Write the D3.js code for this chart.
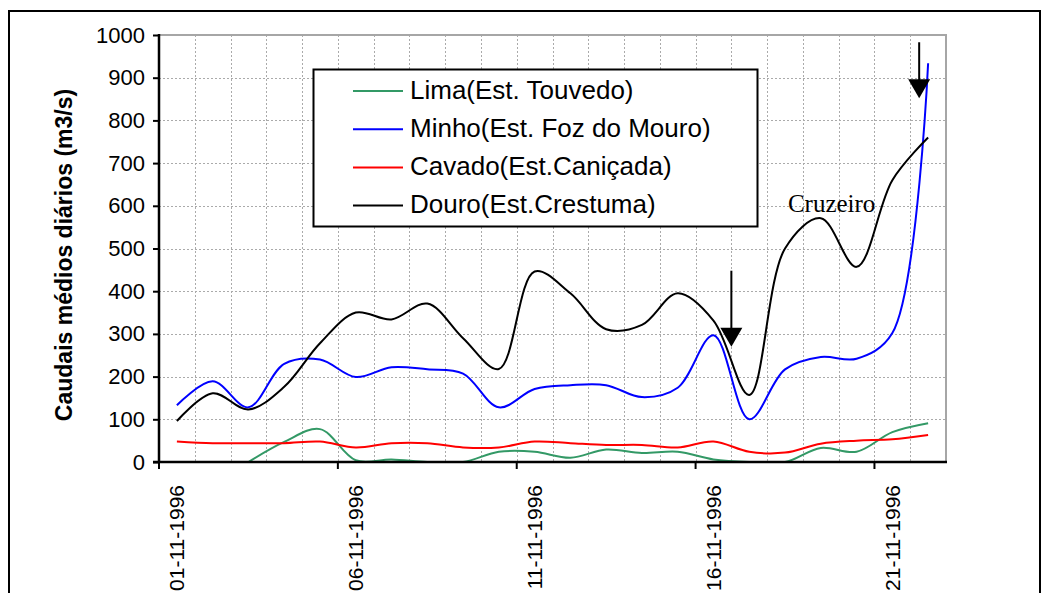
<!DOCTYPE html>
<html><head><meta charset="utf-8">
<script src="https://cdn.jsdelivr.net/npm/d3@7/dist/d3.min.js"></script>
<style>body{margin:0;background:#fff}svg{display:block}</style>
</head><body><svg id="c" width="1052" height="593"></svg>
<script>
// ---- data ----
const dates = ["01-11-1996","02-11-1996","03-11-1996","04-11-1996","05-11-1996","06-11-1996",
  "07-11-1996","08-11-1996","09-11-1996","10-11-1996","11-11-1996","12-11-1996","13-11-1996",
  "14-11-1996","15-11-1996","16-11-1996","17-11-1996","18-11-1996","19-11-1996","20-11-1996",
  "21-11-1996","22-11-1996"];
const xTickLabels = ["01-11-1996","06-11-1996","11-11-1996","16-11-1996","21-11-1996"];
const yTicks = [0,100,200,300,400,500,600,700,800,900,1000];
const lima   = [null,null,0,47,77,4,6,0,0,24,24,10,29,21,24,6,0,0,33,24,70,91];
const minho  = [133,189,128,230,240,199,222,217,207,128,171,180,180,152,174,297,100,217,246,242,302,934];
const cavado = [48,44,44,44,48,34,44,44,34,34,48,44,40,40,34,48,24,22,43,50,53,63];
const douro  = [96,161,123,176,278,350,334,371,290,218,446,395,311,321,395,331,157,500,571,457,660,760];
const seriesNames  = ["Lima(Est. Touvedo)","Minho(Est. Foz do Mouro)","Cavado(Est.Caniçada)","Douro(Est.Crestuma)"];
const seriesValues = [lima, minho, cavado, douro];
const seriesColors = ["#339966","#0000ff","#ff0000","#000000"];
const yTitle = "Caudais médios diários (m3/s)";
const noteText = "Cruzeiro";
const noteAt = {index:17.08, value:586};
const arrows = [{index:15.5, top:448, tip:270}, {index:20.75, top:983, tip:852}];

// ---- layout ----
const svg = d3.select("#c");
const L = 159, R = 946, T = 35, B = 462;
const x = d3.scaleBand().domain(dates).range([L, R]).padding(0);
const bw = x.bandwidth();
const cx = i => x(dates[0]) + bw/2 + i*bw;
const y = d3.scaleLinear().domain([0,1000]).range([B, T]);
const sans = "'Liberation Sans', Arial, sans-serif";

// outer frame
svg.append("rect").attr("x",9).attr("y",11).attr("width",1031).attr("height",640)
  .attr("fill","#fff").attr("stroke","#000").attr("stroke-width",2);

svg.append("clipPath").attr("id","pc").append("rect")
  .attr("x",L).attr("y",T-2).attr("width",R-L).attr("height",B-T+2);

// gridlines
const grid = svg.append("g").attr("stroke","#aaa").attr("stroke-width",1).attr("stroke-dasharray","2,2");
grid.selectAll("line.h").data(yTicks.filter(v=>v>0 && v<1000)).join("line")
  .attr("x1",L).attr("x2",R).attr("y1",d=>Math.round(y(d))+0.5).attr("y2",d=>Math.round(y(d))+0.5);
grid.selectAll("line.v").data(dates.slice(1)).join("line")
  .attr("x1",d=>Math.round(x(d))+0.5).attr("x2",d=>Math.round(x(d))+0.5).attr("y1",T).attr("y2",B);

// plot border (top/right gray)
svg.append("path").attr("d",`M${L},${T}H${R}V${B}`).attr("fill","none")
  .attr("stroke","#a6a6a6").attr("stroke-width",2);

// series
const line = d3.line().defined(d=>d.v!=null).x(d=>cx(d.i)).y(d=>y(d.v)).curve(d3.curveCatmullRom.alpha(0.5));
const sg = svg.append("g").attr("clip-path","url(#pc)");
seriesValues.forEach((vals,k)=>{
  sg.append("path").datum(vals.map((v,i)=>({i,v})))
    .attr("d",line).attr("fill","none").attr("stroke",seriesColors[k]).attr("stroke-width",2)
    .attr("stroke-linejoin","round");
});

// y axis
const yAx = svg.append("g").attr("transform",`translate(${L},0)`)
  .call(d3.axisLeft(y).tickValues(yTicks).tickSize(6).tickPadding(8).tickFormat(d3.format("d")));
yAx.select(".domain").remove();
yAx.selectAll(".tick line").attr("stroke","#000").attr("stroke-width",2);
yAx.selectAll(".tick text").attr("font-family",sans).attr("font-size","22px").attr("fill","#000");
svg.append("line").attr("x1",L).attr("x2",L).attr("y1",T-1).attr("y2",B+1).attr("stroke","#000").attr("stroke-width",2.5);

// x axis
svg.append("line").attr("x1",L-6).attr("x2",R+1).attr("y1",B).attr("y2",B).attr("stroke","#000").attr("stroke-width",2.5);
svg.selectAll("line.xt").data(xTickLabels).join("line")
  .attr("x1",d=>x(d)).attr("x2",d=>x(d)).attr("y1",B).attr("y2",B+7).attr("stroke","#000").attr("stroke-width",2);
svg.selectAll("text.xl").data(xTickLabels).join("text")
  .attr("transform",d=>`translate(${x(d)+bw/2+7.5},485) rotate(-90)`)
  .attr("text-anchor","end").attr("font-family",sans).attr("font-size","21px").text(d=>d);

// y title
svg.append("text").attr("transform","translate(71.5,255) rotate(-90)")
  .attr("text-anchor","middle").attr("font-family",sans).attr("font-weight","bold")
  .attr("font-size","23px").text(yTitle);

// legend
const lg = svg.append("g");
lg.append("rect").attr("x",313.5).attr("y",69.5).attr("width",444).attr("height",157)
  .attr("fill","#fff").attr("stroke","#000").attr("stroke-width",2);
seriesNames.forEach((n,k)=>{
  const ly = 91 + k*38.2;
  lg.append("line").attr("x1",353).attr("x2",403).attr("y1",ly).attr("y2",ly)
    .attr("stroke",seriesColors[k]).attr("stroke-width",2);
  lg.append("text").attr("x",410).attr("y",ly+7.5).attr("font-family",sans)
    .attr("font-size","26px").text(n);
});

// arrows
arrows.forEach(a=>{
  const ax = cx(a.index), yt = y(a.top), yp = y(a.tip);
  svg.append("line").attr("x1",ax).attr("x2",ax).attr("y1",yt).attr("y2",yp-10).attr("stroke","#000").attr("stroke-width",2);
  svg.append("path").attr("d",`M${ax-11},${yp-19}L${ax+11},${yp-19}L${ax},${yp}Z`).attr("fill","#000");
});

// annotation
svg.append("text").attr("x",cx(noteAt.index)).attr("y",y(noteAt.value))
  .attr("font-family","'Liberation Serif','Times New Roman',serif").attr("font-size","25px").text(noteText);
</script></body></html>
